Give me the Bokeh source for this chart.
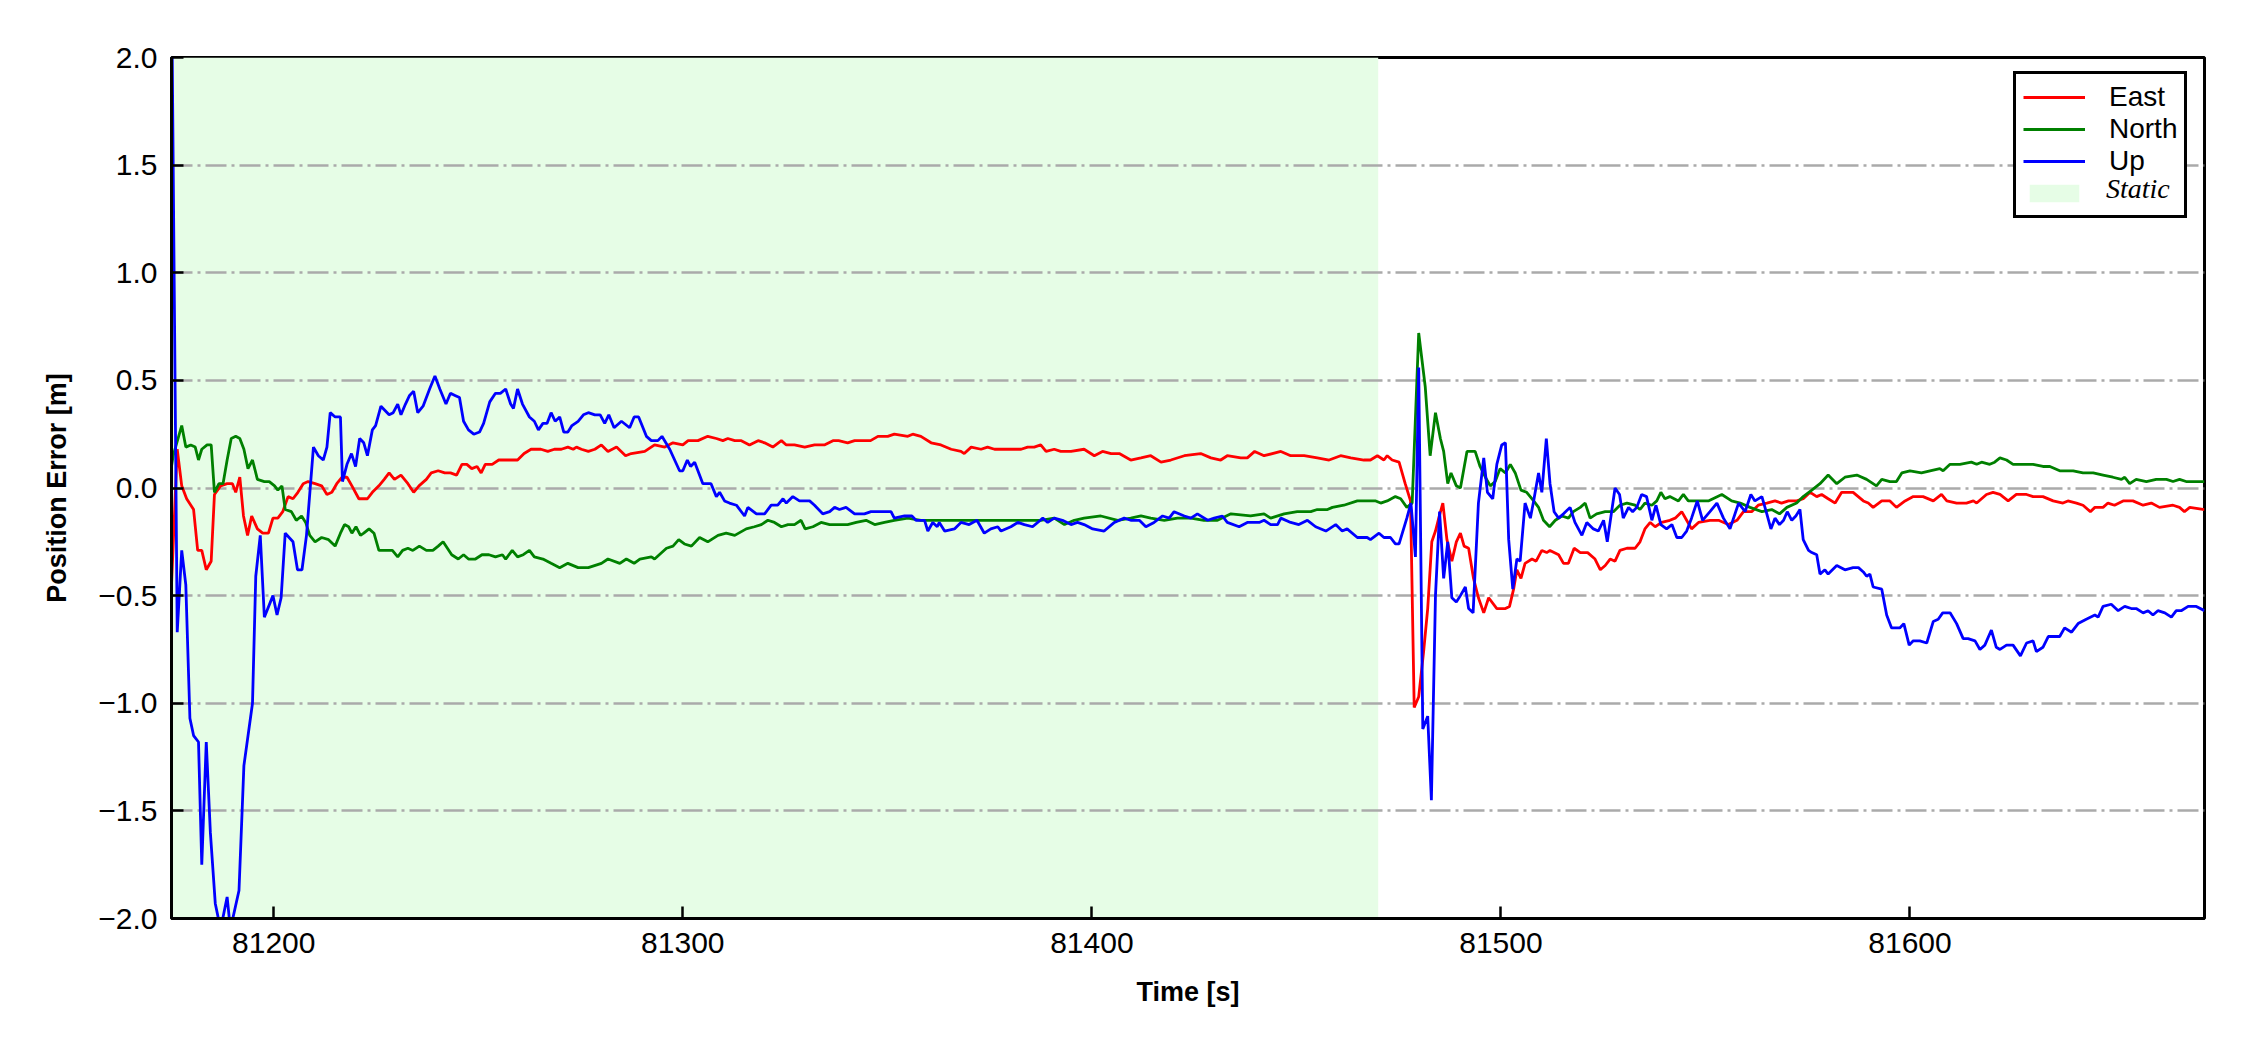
from bokeh.plotting import figure
from bokeh.models import Range1d, FixedTicker, Legend, LegendItem
from bokeh.embed import file_html
from bokeh.resources import INLINE

# ---------------- data ----------------
x_min, x_max = 81175.0, 81672.0
y_min, y_max = -2.0, 2.0
static_start, static_end = 81175.0, 81470.0

x_ticks = [81200, 81300, 81400, 81500, 81600]
y_ticks = [-2.0, -1.5, -1.0, -0.5, 0.0, 0.5, 1.0, 1.5, 2.0]
y_tick_labels = ["\u22122.0", "\u22121.5", "\u22121.0", "\u22120.5", "0.0", "0.5", "1.0", "1.5", "2.0"]

east_t = [81175.0, 81176.4, 81177.5, 81178.7, 81180.4, 81181.4, 81182.4, 81183.5, 81184.7, 81185.5,
          81187.0, 81188.6, 81189.9, 81190.7, 81191.7, 81192.6, 81193.6, 81194.6, 81196.0, 81197.3,
          81198.7, 81199.8, 81201.0, 81202.2, 81203.5, 81204.7, 81205.9, 81207.2, 81208.4, 81210.1,
          81211.7, 81213.0, 81214.2, 81215.4, 81216.7, 81217.9, 81219.1, 81220.8, 81222.9, 81224.1,
          81225.7, 81227.0, 81228.2, 81229.5, 81231.1, 81232.8, 81234.2, 81235.5, 81237.3, 81238.5,
          81240.2, 81241.8, 81243.2, 81244.7, 81246.0, 81247.2, 81248.4, 81249.7, 81250.7, 81251.7,
          81253.4, 81255.0, 81256.3, 81257.9, 81259.6, 81261.2, 81262.9, 81265.3, 81267.0, 81268.6,
          81270.3, 81271.9, 81273.2, 81274.0, 81275.2, 81276.9, 81278.5, 81280.1, 81281.7, 81283.8,
          81286.0, 81287.4, 81290.7, 81293.1, 81295.6, 81297.6, 81300.0, 81301.3, 81303.7, 81306.1,
          81308.2, 81309.8, 81311.0, 81312.7, 81314.3, 81316.3, 81318.4, 81320.0, 81322.0, 81324.1,
          81325.3, 81327.3, 81329.8, 81332.2, 81334.6, 81336.7, 81338.1, 81340.3, 81342.0, 81344.4,
          81345.9, 81347.7, 81350.1, 81351.7, 81355.0, 81356.2, 81358.2, 81360.7, 81363.1, 81365.6,
          81368.0, 81368.8, 81370.5, 81372.9, 81374.5, 81376.2, 81379.4, 81382.7, 81384.3, 81385.9,
          81387.5, 81388.8, 81390.8, 81392.4, 81394.9, 81398.1, 81400.6, 81402.6, 81404.7, 81406.7,
          81409.5, 81412.0, 81414.4, 81416.9, 81419.3, 81422.6, 81426.6, 81429.1, 81431.5, 81433.1,
          81436.4, 81438.0, 81439.8, 81442.1, 81446.2, 81448.6, 81451.9, 81455.1, 81458.0, 81460.8,
          81463.3, 81466.5, 81468.1, 81469.8, 81471.4, 81472.2, 81473.4, 81475.1, 81476.6, 81477.9,
          81478.8, 81479.9, 81481.1, 81482.1, 81483.1, 81484.0, 81484.8, 81485.8, 81486.8, 81488.0,
          81489.1, 81490.1, 81491.0, 81492.1, 81493.3, 81494.5, 81495.8, 81497.0, 81499.0, 81501.1,
          81502.1, 81503.1, 81503.9, 81504.9, 81505.9, 81507.6, 81508.6, 81510.0, 81511.2, 81512.0,
          81514.1, 81515.3, 81516.5, 81517.9, 81519.4, 81521.2, 81523.0, 81524.3, 81525.5, 81526.7,
          81527.9, 81529.1, 81530.8, 81532.8, 81534.0, 81535.2, 81536.5, 81537.7, 81539.3, 81541.3,
          81542.6, 81544.2, 81545.4, 81546.6, 81548.3, 81551.1, 81553.2, 81555.6, 81557.7, 81559.3,
          81561.3, 81562.9, 81565.0, 81567.0, 81568.6, 81570.3, 81572.3, 81573.9, 81575.6, 81577.2,
          81578.4, 81580.0, 81581.7, 81583.3, 81586.1, 81588.6, 81589.8, 81591.0, 81593.1, 81595.1,
          81596.7, 81598.8, 81600.8, 81603.2, 81605.7, 81607.7, 81609.0, 81611.4, 81613.8, 81615.5,
          81616.3, 81618.7, 81620.3, 81622.0, 81624.0, 81626.0, 81628.5, 81630.1, 81632.5, 81635.0,
          81637.4, 81638.6, 81640.7, 81642.3, 81644.1, 81645.2, 81647.2, 81648.4, 81650.0, 81652.1,
          81654.5, 81657.0, 81659.0, 81661.0, 81664.3, 81665.9, 81667.1, 81668.4, 81672.0]
east_v = [-0.45, 0.18, 0.01, -0.05, -0.10, -0.29, -0.29, -0.38, -0.34, -0.03,
          0.01, 0.02, 0.02, -0.02, 0.05, -0.13, -0.22, -0.13, -0.19, -0.21,
          -0.21, -0.14, -0.14, -0.11, -0.04, -0.05, -0.02, 0.02, 0.03, 0.02,
          0.01, -0.03, -0.02, 0.02, 0.05, 0.05, 0.01, -0.05, -0.05, -0.02,
          0.01, 0.04, 0.07, 0.04, 0.06, 0.02, -0.02, 0.01, 0.04, 0.07,
          0.08, 0.07, 0.07, 0.06, 0.11, 0.11, 0.09, 0.10, 0.07, 0.11,
          0.11, 0.13, 0.13, 0.13, 0.13, 0.16, 0.18, 0.18, 0.17, 0.18,
          0.18, 0.19, 0.18, 0.19, 0.18, 0.17, 0.18, 0.20, 0.17, 0.19,
          0.15, 0.16, 0.17, 0.20, 0.19, 0.21, 0.20, 0.22, 0.22, 0.24,
          0.23, 0.22, 0.23, 0.22, 0.22, 0.20, 0.22, 0.21, 0.19, 0.22,
          0.20, 0.20, 0.19, 0.20, 0.20, 0.22, 0.22, 0.21, 0.22, 0.22,
          0.22, 0.24, 0.24, 0.25, 0.24, 0.25, 0.24, 0.21, 0.20, 0.18,
          0.17, 0.16, 0.19, 0.18, 0.19, 0.18, 0.18, 0.18, 0.19, 0.19,
          0.20, 0.17, 0.18, 0.17, 0.17, 0.18, 0.15, 0.17, 0.16, 0.16,
          0.13, 0.14, 0.15, 0.12, 0.13, 0.15, 0.16, 0.14, 0.13, 0.15,
          0.14, 0.14, 0.17, 0.15, 0.17, 0.15, 0.15, 0.14, 0.13, 0.15,
          0.14, 0.13, 0.13, 0.15, 0.13, 0.15, 0.13, 0.12, 0.02, -0.06,
          -1.02, -0.97, -0.76, -0.56, -0.25, -0.20, -0.14, -0.07, -0.24, -0.34,
          -0.25, -0.21, -0.27, -0.28, -0.42, -0.51, -0.58, -0.51, -0.56, -0.56,
          -0.55, -0.47, -0.38, -0.42, -0.35, -0.33, -0.34, -0.29, -0.30, -0.29,
          -0.31, -0.35, -0.35, -0.28, -0.30, -0.30, -0.33, -0.38, -0.36, -0.33,
          -0.34, -0.29, -0.28, -0.28, -0.25, -0.19, -0.16, -0.18, -0.16, -0.15,
          -0.14, -0.11, -0.15, -0.19, -0.16, -0.15, -0.15, -0.17, -0.15, -0.11,
          -0.11, -0.08, -0.07, -0.06, -0.07, -0.06, -0.06, -0.05, -0.02, -0.04,
          -0.03, -0.05, -0.07, -0.02, -0.02, -0.06, -0.07, -0.09, -0.06, -0.06,
          -0.09, -0.06, -0.04, -0.04, -0.06, -0.03, -0.06, -0.07, -0.07, -0.06,
          -0.07, -0.03, -0.02, -0.03, -0.06, -0.03, -0.03, -0.04, -0.04, -0.06,
          -0.07, -0.06, -0.07, -0.08, -0.11, -0.09, -0.09, -0.07, -0.08, -0.06,
          -0.06, -0.08, -0.07, -0.09, -0.08, -0.09, -0.11, -0.09, -0.10]

north_t = [81175.0, 81175.4, 81177.5, 81178.5, 81179.7, 81180.8, 81181.6, 81182.4, 81183.7, 81184.7,
           81185.5, 81186.6, 81187.6, 81188.6, 81189.6, 81190.7, 81191.7, 81192.7, 81193.7, 81194.8,
           81196.0, 81197.7, 81198.9, 81200.2, 81201.0, 81202.0, 81202.8, 81204.3, 81205.5, 81206.8,
           81207.8, 81208.8, 81210.1, 81211.7, 81213.4, 81215.0, 81216.3, 81217.3, 81218.3, 81219.1,
           81220.1, 81221.2, 81222.0, 81223.3, 81224.5, 81225.7, 81227.4, 81229.0, 81230.3, 81231.5,
           81232.8, 81234.0, 81235.6, 81237.3, 81238.9, 81240.2, 81241.4, 81243.5, 81245.1, 81246.4,
           81247.6, 81249.3, 81250.9, 81252.6, 81254.2, 81255.9, 81256.7, 81258.3, 81259.6, 81261.0,
           81262.5, 81263.7, 81265.8, 81267.8, 81269.9, 81271.9, 81274.4, 81276.9, 81280.1, 81281.7,
           81284.6, 81286.2, 81288.1, 81289.5, 81292.3, 81293.1, 81296.0, 81297.6, 81299.0, 81300.4,
           81302.1, 81304.1, 81306.1, 81308.6, 81310.6, 81312.7, 81315.5, 81317.5, 81319.2, 81320.8,
           81322.4, 81324.1, 81325.7, 81327.3, 81328.9, 81329.9, 81331.8, 81333.8, 81335.9, 81337.9,
           81340.3, 81342.4, 81344.8, 81346.9, 81349.3, 81351.7, 81355.0, 81358.2, 81361.5, 81364.8,
           81368.0, 81371.3, 81374.5, 81377.8, 81381.0, 81384.3, 81387.5, 81390.8, 81393.3, 81395.7,
           81398.1, 81402.2, 81406.3, 81409.5, 81412.0, 81414.4, 81417.7, 81420.9, 81424.2, 81427.4,
           81430.7, 81434.0, 81438.8, 81442.1, 81443.7, 81447.0, 81450.2, 81453.5, 81455.1, 81457.6,
           81458.8, 81461.6, 81464.9, 81467.3, 81469.4, 81470.6, 81472.2, 81474.2, 81475.5, 81477.0,
           81478.3, 81479.9, 81481.5, 81482.7, 81484.0, 81485.2, 81486.0, 81487.0, 81487.8, 81489.1,
           81490.1, 81491.7, 81492.7, 81493.7, 81494.9, 81496.2, 81497.4, 81498.6, 81499.8, 81501.1,
           81502.3, 81503.5, 81504.9, 81506.3, 81508.0, 81509.2, 81510.4, 81511.9, 81513.3, 81514.9,
           81516.5, 81517.7, 81519.4, 81520.6, 81521.8, 81523.4, 81525.5, 81527.5, 81529.1, 81530.8,
           81532.8, 81534.0, 81535.2, 81536.9, 81538.1, 81539.1, 81540.1, 81541.3, 81543.4, 81544.6,
           81545.8, 81547.9, 81550.7, 81554.0, 81556.4, 81558.5, 81560.9, 81563.8, 81566.2, 81568.1,
           81569.9, 81572.3, 81573.9, 81576.0, 81578.0, 81580.0, 81582.1, 81584.1, 81587.0, 81589.4,
           81591.8, 81593.1, 81595.1, 81596.7, 81598.0, 81600.0, 81602.8, 81604.9, 81607.3, 81608.1,
           81609.8, 81612.2, 81615.0, 81616.3, 81617.5, 81619.5, 81620.7, 81622.0, 81623.6, 81625.2,
           81627.3, 81630.1, 81632.5, 81634.2, 81636.6, 81639.9, 81642.3, 81644.8, 81647.2, 81649.6,
           81651.7, 81652.5, 81653.7, 81655.3, 81657.8, 81660.2, 81662.7, 81664.3, 81665.9, 81667.5,
           81670.0, 81672.0]
north_v = [0.10, 0.15, 0.29, 0.19, 0.20, 0.19, 0.13, 0.18, 0.20, 0.20,
           -0.02, 0.02, 0.02, 0.13, 0.23, 0.24, 0.23, 0.18, 0.09, 0.13,
           0.04, 0.03, 0.03, 0.01, -0.01, 0.01, -0.10, -0.11, -0.15, -0.13,
           -0.16, -0.22, -0.25, -0.23, -0.24, -0.27, -0.21, -0.17, -0.18, -0.21,
           -0.18, -0.22, -0.21, -0.19, -0.21, -0.29, -0.29, -0.29, -0.32, -0.29,
           -0.28, -0.29, -0.27, -0.29, -0.29, -0.27, -0.25, -0.31, -0.33, -0.31,
           -0.33, -0.33, -0.31, -0.31, -0.32, -0.31, -0.33, -0.29, -0.32, -0.31,
           -0.29, -0.32, -0.33, -0.35, -0.37, -0.35, -0.37, -0.37, -0.35, -0.33,
           -0.35, -0.33, -0.35, -0.33, -0.32, -0.33, -0.28, -0.27, -0.24, -0.26,
           -0.27, -0.23, -0.25, -0.22, -0.21, -0.22, -0.19, -0.18, -0.17, -0.15,
           -0.16, -0.18, -0.17, -0.17, -0.15, -0.19, -0.18, -0.16, -0.17, -0.17,
           -0.17, -0.16, -0.15, -0.17, -0.16, -0.15, -0.14, -0.15, -0.15, -0.15,
           -0.15, -0.15, -0.15, -0.15, -0.15, -0.15, -0.15, -0.14, -0.17, -0.15,
           -0.14, -0.13, -0.15, -0.14, -0.13, -0.14, -0.15, -0.14, -0.14, -0.15,
           -0.15, -0.12, -0.13, -0.12, -0.14, -0.12, -0.11, -0.11, -0.10, -0.10,
           -0.09, -0.08, -0.06, -0.06, -0.06, -0.07, -0.06, -0.04, -0.05, -0.09,
           -0.07, 0.72, 0.47, 0.15, 0.35, 0.23, 0.17, 0.02, 0.07, 0.01,
           0.00, 0.17, 0.17, 0.17, 0.10, 0.05, 0.01, 0.03, 0.09, 0.07,
           0.11, 0.07, -0.01, -0.02, -0.06, -0.09, -0.15, -0.18, -0.15, -0.13,
           -0.14, -0.11, -0.09, -0.07, -0.14, -0.12, -0.11, -0.11, -0.08, -0.07,
           -0.08, -0.10, -0.07, -0.08, -0.06, -0.02, -0.05, -0.04, -0.06, -0.03,
           -0.06, -0.06, -0.06, -0.03, -0.06, -0.07, -0.09, -0.11, -0.10, -0.12,
           -0.09, -0.07, -0.04, -0.01, 0.02, 0.06, 0.02, 0.05, 0.06, 0.04,
           0.01, 0.04, 0.03, 0.03, 0.07, 0.08, 0.07, 0.08, 0.09, 0.08,
           0.11, 0.11, 0.12, 0.11, 0.12, 0.11, 0.12, 0.14, 0.13, 0.11,
           0.11, 0.11, 0.10, 0.10, 0.08, 0.08, 0.07, 0.07, 0.06, 0.05,
           0.04, 0.05, 0.02, 0.04, 0.03, 0.04, 0.04, 0.03, 0.04, 0.03,
           0.03, 0.03]

up_t = [81175.0, 81176.4, 81177.5, 81178.5, 81179.5, 81180.4, 81181.6, 81182.4, 81183.5, 81184.5,
        81185.7, 81187.0, 81188.6, 81189.4, 81191.5, 81192.7, 81194.8, 81195.6, 81196.7, 81197.7,
        81199.8, 81200.8, 81201.8, 81202.8, 81204.7, 81205.8, 81206.9, 81208.0, 81209.7, 81210.9,
        81212.1, 81213.0, 81213.8, 81215.0, 81216.3, 81216.8, 81217.9, 81219.0, 81220.0, 81221.0,
        81222.0, 81222.9, 81224.1, 81224.9, 81226.2, 81227.2, 81228.2, 81229.2, 81230.3, 81231.1,
        81232.2, 81233.2, 81234.2, 81235.2, 81236.5, 81238.1, 81239.4, 81240.6, 81242.1, 81243.2,
        81244.3, 81245.4, 81246.4, 81247.6, 81248.9, 81250.3, 81251.3, 81252.8, 81254.2, 81255.4,
        81256.7, 81257.9, 81258.6, 81259.6, 81260.8, 81262.5, 81263.7, 81264.7, 81265.8, 81266.8,
        81267.8, 81268.8, 81269.9, 81270.9, 81271.9, 81272.9, 81274.4, 81275.7, 81276.9, 81278.5,
        81279.8, 81280.9, 81281.9, 81283.2, 81285.0, 81287.0, 81288.1, 81289.2, 81291.1, 81292.3,
        81293.9, 81294.9, 81296.8, 81299.2, 81300.0, 81301.1, 81301.9, 81302.9, 81304.9, 81306.9,
        81308.2, 81309.0, 81310.2, 81311.4, 81313.1, 81315.1, 81315.9, 81318.0, 81320.0, 81321.6,
        81323.2, 81324.5, 81325.3, 81326.9, 81328.5, 81331.0, 81332.2, 81334.2, 81335.9, 81337.1,
        81338.3, 81339.9, 81342.0, 81344.4, 81346.0, 81347.3, 81348.9, 81350.9, 81351.7, 81354.2,
        81356.0, 81357.0, 81359.1, 81359.9, 81361.1, 81362.2, 81362.7, 81364.0, 81366.4, 81368.0,
        81370.0, 81371.9, 81373.7, 81375.3, 81377.0, 81377.8, 81380.2, 81381.9, 81383.5, 81385.5,
        81388.0, 81389.2, 81390.8, 81392.8, 81394.9, 81396.5, 81398.1, 81400.2, 81403.0, 81405.5,
        81407.9, 81409.5, 81411.6, 81413.2, 81415.2, 81417.3, 81418.9, 81420.1, 81422.6, 81424.2,
        81425.8, 81428.3, 81429.9, 81431.9, 81433.1, 81436.0, 81438.0, 81440.9, 81442.1, 81443.7,
        81445.4, 81446.2, 81448.6, 81450.6, 81452.7, 81454.7, 81457.2, 81459.6, 81461.2, 81462.4,
        81464.9, 81467.3, 81468.1, 81470.2, 81471.4, 81473.0, 81474.2, 81475.1, 81477.0, 81478.0,
        81479.1, 81479.9, 81480.9, 81482.1, 81483.0, 81484.0, 81485.0, 81486.0, 81487.0, 81488.0,
        81489.1, 81490.1, 81491.3, 81492.1, 81493.2, 81494.5, 81495.8, 81496.7, 81498.0, 81499.0,
        81500.2, 81501.1, 81501.9, 81502.9, 81503.9, 81504.7, 81505.9, 81507.2, 81508.0, 81509.2,
        81510.0, 81511.1, 81512.0, 81513.0, 81514.1, 81515.3, 81516.9, 81518.1, 81519.8, 81521.0,
        81522.6, 81523.8, 81525.1, 81526.0, 81527.9, 81529.0, 81529.9, 81531.2, 81532.2, 81533.2,
        81534.4, 81535.6, 81536.9, 81537.9, 81539.1, 81540.5, 81541.8, 81543.0, 81544.2, 81545.4,
        81546.6, 81548.0, 81549.3, 81551.1, 81552.8, 81554.4, 81556.0, 81558.1, 81559.7, 81561.1,
        81562.1, 81563.8, 81565.0, 81566.0, 81567.0, 81568.1, 81569.1, 81570.0, 81571.1, 81572.1,
        81573.1, 81573.9, 81575.2, 81576.0, 81577.2, 81578.0, 81579.2, 81580.0, 81582.1, 81584.1,
        81586.1, 81587.4, 81588.6, 81589.4, 81590.2, 81591.0, 81593.1, 81594.3, 81595.5, 81596.7,
        81597.5, 81598.5, 81599.8, 81600.8, 81602.4, 81604.1, 81605.7, 81606.9, 81608.0, 81609.8,
        81611.4, 81613.0, 81614.2, 81615.9, 81617.1, 81618.3, 81619.9, 81621.1, 81622.0, 81623.6,
        81625.2, 81627.0, 81628.5, 81630.1, 81630.9, 81632.5, 81633.8, 81635.0, 81636.6, 81637.8,
        81639.5, 81641.1, 81643.1, 81645.2, 81646.0, 81647.2, 81649.2, 81650.9, 81652.5, 81654.1,
        81655.3, 81657.0, 81658.2, 81659.4, 81660.6, 81662.3, 81663.9, 81665.1, 81666.3, 81668.0,
        81670.0, 81672.0]
up_v = [2.40, -0.67, -0.29, -0.45, -1.07, -1.15, -1.18, -1.75, -1.18, -1.60,
        -1.93, -2.05, -1.90, -2.05, -1.87, -1.29, -1.00, -0.41, -0.22, -0.60,
        -0.50, -0.59, -0.51, -0.21, -0.25, -0.38, -0.38, -0.22, 0.19, 0.15,
        0.13, 0.19, 0.35, 0.33, 0.33, 0.03, 0.11, 0.16, 0.10, 0.23,
        0.21, 0.15, 0.27, 0.29, 0.38, 0.36, 0.34, 0.35, 0.39, 0.34,
        0.39, 0.43, 0.45, 0.35, 0.38, 0.46, 0.52, 0.46, 0.39, 0.44,
        0.43, 0.42, 0.31, 0.27, 0.25, 0.26, 0.30, 0.40, 0.44, 0.44,
        0.46, 0.39, 0.37, 0.46, 0.39, 0.33, 0.31, 0.27, 0.30, 0.30,
        0.35, 0.31, 0.33, 0.26, 0.26, 0.29, 0.31, 0.34, 0.35, 0.34,
        0.34, 0.30, 0.34, 0.28, 0.31, 0.28, 0.33, 0.33, 0.24, 0.22,
        0.22, 0.24, 0.18, 0.08, 0.08, 0.13, 0.10, 0.12, 0.02, 0.02,
        -0.04, -0.02, -0.06, -0.07, -0.08, -0.13, -0.09, -0.12, -0.12, -0.08,
        -0.08, -0.05, -0.07, -0.04, -0.06, -0.06, -0.08, -0.12, -0.11, -0.09,
        -0.10, -0.09, -0.12, -0.12, -0.11, -0.11, -0.11, -0.11, -0.14, -0.13,
        -0.13, -0.15, -0.15, -0.20, -0.16, -0.18, -0.16, -0.20, -0.19, -0.16,
        -0.17, -0.15, -0.21, -0.19, -0.18, -0.20, -0.18, -0.16, -0.17, -0.18,
        -0.14, -0.16, -0.14, -0.15, -0.17, -0.16, -0.17, -0.19, -0.20, -0.16,
        -0.14, -0.15, -0.15, -0.18, -0.16, -0.13, -0.14, -0.11, -0.13, -0.14,
        -0.12, -0.15, -0.14, -0.13, -0.16, -0.18, -0.16, -0.16, -0.15, -0.17,
        -0.17, -0.14, -0.16, -0.17, -0.15, -0.18, -0.20, -0.17, -0.20, -0.19,
        -0.23, -0.23, -0.24, -0.21, -0.23, -0.23, -0.26, -0.26, -0.14, -0.07,
        -0.32, 0.56, -1.12, -1.06, -1.45, -0.50, -0.11, -0.42, -0.25, -0.51,
        -0.53, -0.50, -0.46, -0.56, -0.58, -0.07, 0.14, -0.02, -0.05, 0.11,
        0.20, 0.21, -0.24, -0.47, -0.33, -0.34, -0.07, -0.14, -0.06, 0.07,
        -0.02, 0.23, 0.02, -0.11, -0.14, -0.12, -0.09, -0.16, -0.22, -0.16,
        -0.19, -0.20, -0.15, -0.25, 0.00, -0.03, -0.14, -0.09, -0.11, -0.09,
        -0.03, -0.04, -0.15, -0.08, -0.17, -0.19, -0.17, -0.23, -0.23, -0.20,
        -0.14, -0.06, -0.15, -0.11, -0.07, -0.14, -0.19, -0.07, -0.11, -0.03,
        -0.06, -0.04, -0.12, -0.19, -0.14, -0.17, -0.15, -0.11, -0.15, -0.13,
        -0.10, -0.24, -0.29, -0.30, -0.31, -0.40, -0.38, -0.40, -0.36, -0.38,
        -0.37, -0.37, -0.39, -0.41, -0.40, -0.46, -0.47, -0.59, -0.65, -0.65,
        -0.65, -0.63, -0.73, -0.71, -0.71, -0.72, -0.62, -0.61, -0.58, -0.58,
        -0.63, -0.70, -0.70, -0.71, -0.75, -0.73, -0.66, -0.74, -0.75, -0.73,
        -0.73, -0.78, -0.72, -0.71, -0.76, -0.74, -0.69, -0.69, -0.69, -0.65,
        -0.67, -0.63, -0.61, -0.59, -0.60, -0.55, -0.54, -0.57, -0.55, -0.56,
        -0.56, -0.58, -0.57, -0.59, -0.57, -0.58, -0.60, -0.57, -0.57, -0.55,
        -0.55, -0.57]

series_names = ["East", "North", "Up"]
static_name = "Static"
series_colors = ["#ff0000", "#008000", "#0000ff"]

# ---------------- layout ----------------
W, H = 2242, 1042
BL, BR, BT, BB = 171, 38, 57, 124
FONT = "Liberation Sans"

p = figure(width=W, height=H, output_backend="svg", toolbar_location=None,
           x_range=Range1d(x_min, x_max), y_range=Range1d(y_min, y_max),
           min_border_left=BL, min_border_right=BR, min_border_top=BT, min_border_bottom=BB,
           background_fill_color="white", border_fill_color="white")

p.outline_line_color = "black"
p.outline_line_width = 3
p.outline_line_alpha = 1.0

static_r = p.quad(left=[static_start], right=[static_end], bottom=[y_min], top=[y_max],
                  fill_color="#e6fde6", line_color=None, level="image")

renderers = []
for name, t, v, c in zip(series_names, [east_t, north_t, up_t], [east_v, north_v, up_v], series_colors):
    r = p.line(t, v, line_color=c, line_width=2.8)
    renderers.append(r)

# invisible helper renderer, only used to carry the italic "Static" legend label
dummy_r = p.line(x=[], y=[], line_alpha=0)

p.xgrid.grid_line_color = None
p.ygrid.grid_line_color = "#aaaaaa"
p.ygrid.grid_line_width = 2.5
p.ygrid.grid_line_dash = "21 5 3 5"
p.ygrid.ticker = FixedTicker(ticks=y_ticks)

p.xaxis.ticker = FixedTicker(ticks=x_ticks)
p.yaxis.ticker = FixedTicker(ticks=y_ticks)
p.yaxis.major_label_overrides = {t: lab for t, lab in zip(y_ticks, y_tick_labels)}

for ax in (p.xaxis[0], p.yaxis[0]):
    ax.axis_line_color = "black"
    ax.axis_line_width = 3
    ax.major_tick_in = 12
    ax.major_tick_out = 0
    ax.major_tick_line_width = 2.5
    ax.major_tick_line_color = "black"
    ax.minor_tick_line_color = None
    ax.major_label_text_font = FONT
    ax.major_label_text_font_size = "30px"
    ax.major_label_text_color = "black"
    ax.axis_label_text_font = FONT
    ax.axis_label_text_font_size = "27px"
    ax.axis_label_text_font_style = "bold"
    ax.axis_label_text_color = "black"

p.xaxis.axis_label = "Time [s]"
p.yaxis.axis_label = "Position Error [m]"
p.xaxis.major_label_standoff = 14
p.yaxis.major_label_standoff = 14
p.xaxis.axis_label_standoff = 21
p.yaxis.axis_label_standoff = 23

# main legend (positions in screen px relative to the frame's bottom-left corner)
LEG_PAD = 7
LEG_ROW = 31
LEG_GLYPH_W = 62
LEG_STANDOFF = 24
leg_left = 1842
leg_bottom = 700
items = [LegendItem(label=n, renderers=[r]) for n, r in zip(series_names, renderers)]
items.append(LegendItem(label=" ", renderers=[static_r]))
legend = Legend(items=items, location=(leg_left, leg_bottom),
                label_text_font=FONT, label_text_font_size="28px", label_text_color="black",
                label_text_line_height=1.0,
                glyph_width=LEG_GLYPH_W, glyph_height=22, label_height=LEG_ROW,
                label_standoff=LEG_STANDOFF, spacing=0, padding=LEG_PAD, margin=0,
                border_line_color="black", border_line_width=3, border_line_alpha=1.0,
                background_fill_color="white", background_fill_alpha=1.0)
p.add_layout(legend, "center")

# second, transparent legend carrying only the italic serif "Static" label on the 4th row
static_legend = Legend(items=[LegendItem(label=static_name, renderers=[dummy_r])],
                       location=(leg_left + LEG_PAD + LEG_GLYPH_W + LEG_STANDOFF - 1,
                                 leg_bottom + LEG_PAD + 6),
                       label_text_font="Liberation Serif", label_text_font_style="italic",
                       label_text_font_size="28px", label_text_color="black",
                       label_text_line_height=1.0,
                       glyph_width=1, glyph_height=LEG_ROW, label_height=LEG_ROW,
                       label_standoff=0, spacing=0, padding=0, margin=0,
                       border_line_alpha=0, background_fill_alpha=0)
p.add_layout(static_legend, "center")

open("out.html", "w").write(file_html(p, INLINE))
